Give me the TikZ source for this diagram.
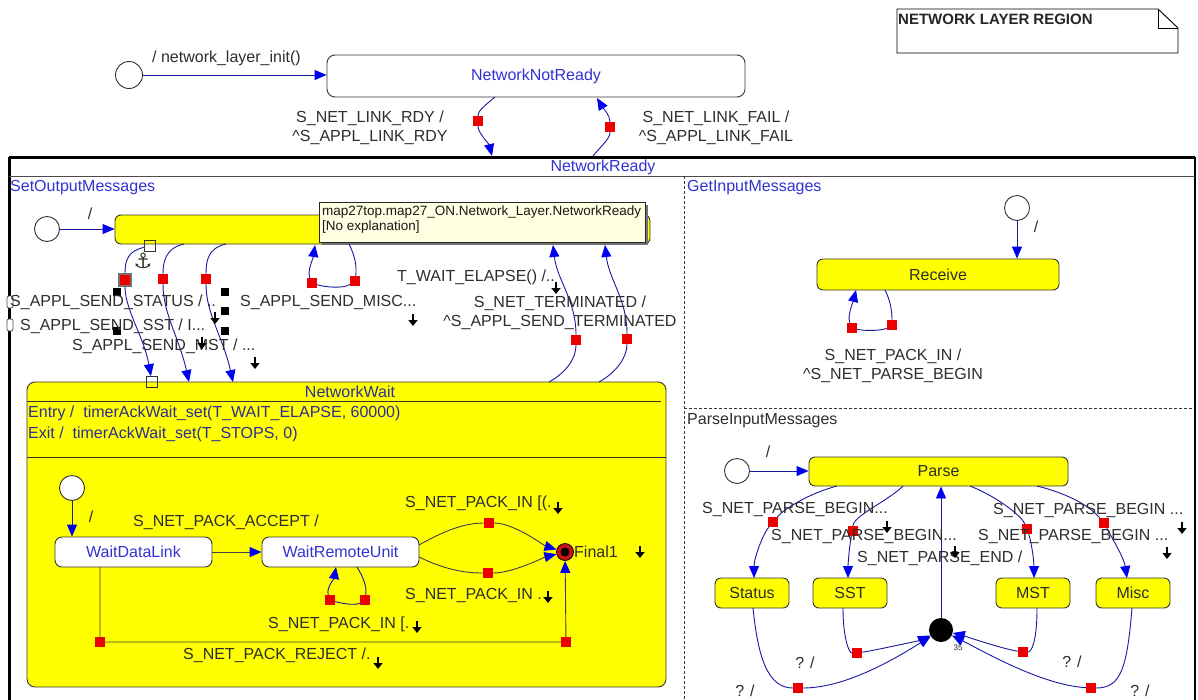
\documentclass[tikz,border=0pt]{standalone}
\usepackage{fontspec}
\setmainfont{Liberation Sans}
\newfontfamily\djv{DejaVu Sans}
\usetikzlibrary{arrows.meta,calc}
\definecolor{stblue}{RGB}{50,50,210}
\definecolor{navy}{RGB}{25,25,160}
\definecolor{tipblue}{RGB}{0,0,240}
\definecolor{styellow}{RGB}{255,255,0}
\definecolor{ttyellow}{RGB}{255,255,225}
\definecolor{sqred}{RGB}{235,0,0}
\definecolor{txtgray}{RGB}{45,45,45}
\definecolor{ewblue}{RGB}{45,45,150}
\definecolor{finred}{RGB}{200,20,20}
\begin{document}
\begin{tikzpicture}[x=1pt,y=-1pt,
  font=\fontsize{16}{19}\selectfont,
  lbl/.style={text=txtgray,inner sep=0},
  trans/.style={draw=navy,line width=0.9pt,-{Triangle[length=12pt,width=10pt,color=tipblue]}},
  transd/.style={draw=black!75,line width=0.9pt,-{Triangle[length=12pt,width=10pt,color=tipblue]}},
  stbox/.style={draw=black!80,line width=0.9pt,fill=styellow,rounded corners=6pt,inner sep=0,text=txtgray},
  wbox/.style={draw=black!80,line width=0.9pt,fill=white,rounded corners=7pt,inner sep=0,text=stblue},
  initc/.style={circle,draw=black!80,line width=0.9pt,fill=white,minimum size=25pt,inner sep=0},
  rsq/.style={fill=sqred,minimum size=10pt,inner sep=0},
  bsq/.style={fill=black,minimum size=8pt,inner sep=0},
  hsq/.style={draw=black!80,line width=0.8pt,minimum size=11pt,inner sep=0},
  darr/.style={draw=black,line width=2.2pt,-{Triangle[length=6pt,width=9pt]}},
  region/.style={text=stblue,anchor=west,inner sep=0},
  dline/.style={draw=black!80,line width=0.8pt,dash pattern=on 3pt off 2pt},
]
\useasboundingbox (0,0) rectangle (1198,699);
\clip (0,0) rectangle (1198,699);
\fill[white] (0,0) rectangle (1198,699);

% ---------- note ----------
\draw[line width=0.9pt,fill=white] (897,9) -- (1158,9) -- (1178,28) -- (1178,53) -- (897,53) -- cycle;
\draw[line width=0.9pt] (1158,9) -- (1158,28) -- (1178,28);
\node[anchor=west,inner sep=0,font=\bfseries\fontsize{15}{18}\selectfont,text=black!85] (note) at (898,19) {NETWORK LAYER REGION};

% ---------- NetworkReady container ----------
\draw[line width=3pt] (9,157) -- (1195,157);
\draw[line width=3pt] (9,157) -- (9,710);
\draw[line width=2pt] (1195,157) -- (1195,710);
\draw[line width=0.9pt,black!70] (9,176) -- (1195,176);
\node[inner sep=0,text=stblue] (nrt) at (603,167) {NetworkReady};
\draw[dline] (684,176) -- (684,710);
\draw[dline] (684,408) -- (1194,408);
\node[region] (rg1) at (10,188) {SetOutputMessages};
\node[region] (rg2) at (687,188) {GetInputMessages};
\node[region,text=txtgray] (rg3) at (687,421) {ParseInputMessages};
\draw[line width=0.7pt,black!70,fill=white,rounded corners=2pt] (7,296) rectangle (13,308);
\draw[line width=0.7pt,black!70,fill=white,rounded corners=2pt] (7,319) rectangle (13,331);

% ---------- top level ----------
\node[initc,minimum size=27pt] (i0) at (129,75) {};
\node[wbox,minimum width=418pt,minimum height=42pt,rounded corners=8pt] (nnr) at (536,76) {NetworkNotReady};
\draw[trans] (i0) -- (i0 -| nnr.west);
\node[lbl,anchor=west] (l0) at (152,58) {/ network\_layer\_init()};
\node[rsq] (r1) at (478,121) {};
\node[rsq] (r2) at (610,127) {};
\coordinate (c1s) at (495,97);
\coordinate (c1e) at (492,156);
\draw[trans] (c1s) .. controls +(-12,10) and +(0,-10) .. (r1) .. controls +(0,12) and +(-3,-12) .. (c1e);
\coordinate (c2s) at (593,156);
\coordinate (c2e) at (597,98);
\draw[trans] (c2s) .. controls +(8,-10) and +(0,12) .. (r2) .. controls +(0,-12) and +(6,10) .. (c2e);
\node[lbl,align=center] (l1) at (370,128) {S\_NET\_LINK\_RDY /\\\textasciicircum S\_APPL\_LINK\_RDY};
\node[lbl,align=center] (l2) at (716,128) {S\_NET\_LINK\_FAIL /\\\textasciicircum S\_APPL\_LINK\_FAIL};

% ---------- NetworkWait ----------
\node[stbox,minimum width=639pt,minimum height=305pt,rounded corners=8pt] (nw) at (346.5,534.5) {};
\node[inner sep=0,text=ewblue] (nwt) at (350,392) {NetworkWait};
\draw[line width=0.9pt,black!80] (27,401) -- (661,401);
\draw[line width=0.9pt,black!80] (27,457) -- (666,457);
\node[anchor=west,inner sep=0,text=ewblue] (en) at (28,413) {Entry /\ \ timerAckWait\_set(T\_WAIT\_ELAPSE, 60000)};
\node[anchor=west,inner sep=0,text=ewblue] (ex) at (28,434) {Exit /\ \ timerAckWait\_set(T\_STOPS, 0)};
\node[hsq] (h2) at (152,382) {};

% ---------- SetOutputMessages ----------
\node[initc] (i1) at (47,229) {};
\node[stbox,minimum width=535pt,minimum height=29pt] (sout) at (382.5,229.5) {};
\draw[trans] (i1) -- (i1 -| sout.west);
\node[lbl] (l3) at (90,214) {/};
\fill[black!55] (322,205) rectangle (648,245);
\node[draw=black!85,line width=0.8pt,fill=ttyellow,minimum width=326pt,minimum height=40pt,anchor=north west,inner sep=0] (tt) at (319,202) {};
\node[anchor=north west,align=left,inner sep=0,text=black!90,font=\fontsize{13.5}{15}\selectfont] (ttx) at (322,206) {map27top.map27\_ON.Network\_Layer.NetworkReady\\{[}No explanation{]}};
\node[hsq] (h1) at (150,246) {};
\node[inner sep=0,font=\djv\fontsize{21}{21}\selectfont,text=black!80] (anc) at (143,261) {⚓};

\node[rsq,draw=black!55,line width=1.2pt,minimum size=12pt] (rA) at (125,280) {};
\node[rsq] (rB) at (163,279) {};
\node[rsq] (rC) at (206,279) {};
\node[rsq] (rD) at (312,283) {};
\node[rsq] (rE) at (355,281) {};
\node[rsq] (rT) at (576,340) {};
\node[rsq] (rN) at (627,339) {};

\draw[trans] (h1) .. controls +(-22,5) and +(0,-20) .. (rA) .. controls +(0,30) and +(-8,-45) .. (h2);
\coordinate (sB) at (184,244);
\coordinate (eB) at (189,382);
\draw[trans] (sB) .. controls +(-18,4) and +(0,-18) .. (rB) .. controls +(0,35) and +(-10,-45) .. (eB);
\coordinate (sC) at (226,244);
\coordinate (eC) at (233,382);
\draw[trans] (sC) .. controls +(-18,4) and +(0,-18) .. (rC) .. controls +(0,35) and +(-10,-45) .. (eC);
\coordinate (sD) at (349,244);
\coordinate (eD) at (315,245);
\draw[trans] (sD) .. controls +(6,12) and +(2,-15) .. (rE) .. controls +(-12,8) and +(12,4) .. (rD) .. controls +(-5,-12) and +(-2,14) .. (eD);
\coordinate (sT) at (549,382);
\coordinate (eT) at (553,245);
\draw[trans] (sT) .. controls +(18,-10) and +(0,18) .. (rT) .. controls +(0,-40) and +(4,35) .. (eT);
\coordinate (sN) at (599,382);
\coordinate (eN) at (605,245);
\draw[trans] (sN) .. controls +(18,-10) and +(0,18) .. (rN) .. controls +(0,-40) and +(4,35) .. (eN);

\foreach \x/\y [count=\i] in {117/292,117/331,225/292,225/311,225/331}
  \node[bsq] (bq\i) at (\x,\y) {};

\node[lbl,anchor=west] (lA) at (10,302) {S\_APPL\_SEND\_STATUS / ..};
\node[lbl,anchor=west] (lB) at (20,326) {S\_APPL\_SEND\_SST / I...};
\node[lbl,anchor=west] (lC) at (72,346) {S\_APPL\_SEND\_MST / ...};
\node[lbl,anchor=west] (lD) at (240,302) {S\_APPL\_SEND\_MISC...};
\node[lbl,anchor=west] (lT) at (397,277) {T\_WAIT\_ELAPSE() /..};
\node[lbl,align=center] (lN) at (560,313) {S\_NET\_TERMINATED /\\\textasciicircum S\_APPL\_SEND\_TERMINATED};

% ---------- NetworkWait inner ----------
\node[initc] (i2) at (72,488) {};
\node[wbox,minimum width=157pt,minimum height=30pt] (wdl) at (133.5,552) {WaitDataLink};
\node[wbox,minimum width=157pt,minimum height=30pt] (wru) at (340.5,552) {WaitRemoteUnit};
\draw[trans] (i2) -- (i2 |- wdl.north);
\node[lbl] (l5) at (91,517) {/};
\draw[transd] (wdl) -- (wru);
\node[lbl,anchor=west] (l6) at (133,522) {S\_NET\_PACK\_ACCEPT /};

\node[circle,draw=black,line width=0.8pt,fill=finred,minimum size=17pt,inner sep=0] (f1) at (565,552) {};
\node[circle,fill=black,minimum size=9pt,inner sep=0] (f1c) at (565,552) {};
\node[lbl,anchor=west] (lf) at (574,552) {Final1};

\node[rsq] (rU) at (489,523) {};
\node[rsq] (rL) at (488,573) {};
\node[rsq] (rW1) at (330,600) {};
\node[rsq] (rW2) at (365,600) {};
\node[rsq] (rR1) at (100,642) {};
\node[rsq] (rR2) at (566,642) {};

\coordinate (u0) at (419,545);
\coordinate (d0) at (419,557);
\draw[transd] (u0) .. controls +(25,-14) and +(-25,0) .. (rU) .. controls +(25,0) and +(-20,-6) .. (f1);
\draw[transd] (d0) .. controls +(25,12) and +(-25,0) .. (rL) .. controls +(25,0) and +(-20,5) .. (f1);
\coordinate (sW) at (357,567);
\coordinate (eW) at (336,567);
\draw[trans] (sW) .. controls +(6,10) and +(2,-14) .. (rW2) .. controls +(-10,6) and +(10,3) .. (rW1) .. controls +(-4,-12) and +(-2,12) .. (eW);
\coordinate (rj0) at (100,567);
\draw[transd] (rj0) -- (rR1) -- (rR2) -- (f1);

\node[lbl,anchor=west] (l9) at (405,503) {S\_NET\_PACK\_IN [(.};
\node[lbl,anchor=west] (l10) at (405,595) {S\_NET\_PACK\_IN .};
\node[lbl,anchor=west] (l11) at (268,624) {S\_NET\_PACK\_IN [.};
\node[lbl,anchor=west] (l12) at (183,655) {S\_NET\_PACK\_REJECT /.};

% ---------- GetInputMessages ----------
\node[initc] (i3) at (1017,208) {};
\node[stbox,minimum width=242pt,minimum height=31pt] (rcv) at (938,274.5) {Receive};
\draw[trans] (i3) -- (i3 |- rcv.north);
\node[lbl] (l7) at (1036,227) {/};
\node[rsq] (rG1) at (852,328) {};
\node[rsq] (rG2) at (892,325) {};
\coordinate (sG) at (885,290);
\coordinate (eG) at (856,290);
\draw[trans] (sG) .. controls +(5,10) and +(0,-15) .. (rG2) .. controls +(-10,6) and +(12,3) .. (rG1) .. controls +(-5,-12) and +(-3,12) .. (eG);
\node[lbl,align=center] (l8) at (893,366) {S\_NET\_PACK\_IN /\\\textasciicircum S\_NET\_PARSE\_BEGIN};

% ---------- ParseInputMessages ----------
\node[initc] (i4) at (737,471) {};
\node[stbox,minimum width=259pt,minimum height=29pt] (parse) at (938.5,471.5) {Parse};
\draw[trans] (i4) -- (i4 -| parse.west);
\node[lbl] (l13) at (768,452) {/};
\node[stbox,minimum width=74pt,minimum height=30pt] (status) at (752,593) {Status};
\node[stbox,minimum width=74pt,minimum height=30pt] (sst) at (850,593) {SST};
\node[stbox,minimum width=74pt,minimum height=30pt] (mst) at (1033,593) {MST};
\node[stbox,minimum width=74pt,minimum height=30pt] (misc) at (1133,593) {Misc};
\node[circle,fill=black,minimum size=24pt,inner sep=0] (j) at (941,630) {};
\node[inner sep=0,font=\fontsize{8}{8}\selectfont,text=txtgray] (j35) at (958,648) {35};
\draw[trans] (j) -- (j |- parse.south);

\node[rsq] (rP1) at (773,522) {};
\node[rsq] (rP2) at (853,531) {};
\node[rsq] (rP3) at (1027,529) {};
\node[rsq] (rP4) at (1104,523) {};
\node[rsq] (rS) at (857,653) {};
\node[rsq] (rSt) at (798,688) {};
\node[rsq] (rM) at (1023,652) {};
\node[rsq] (rMi) at (1091,688) {};

\coordinate (p1) at (837,486);
\coordinate (p2) at (903,486);
\coordinate (p3) at (970,486);
\coordinate (p4) at (1037,486);
\coordinate (q1) at (754,578);
\coordinate (q2) at (848,578);
\coordinate (q3) at (1034,578);
\coordinate (q4) at (1127,578);
\draw[trans] (p1) .. controls +(-30,8) and +(10,-12) .. (rP1) .. controls +(-10,12) and +(0,-20) .. (q1);
\draw[trans] (p2) .. controls +(-15,15) and +(0,-15) .. (rP2) .. controls +(-3,10) and +(0,-15) .. (q2);
\draw[trans] (p3) .. controls +(30,12) and +(-5,-12) .. (rP3) .. controls +(5,15) and +(0,-15) .. (q3);
\draw[trans] (p4) .. controls +(40,10) and +(-10,-12) .. (rP4) .. controls +(8,15) and +(-3,-20) .. (q4);

\coordinate (b1) at (753,608);
\coordinate (b2) at (843,608);
\coordinate (b3) at (1037,608);
\coordinate (b4) at (1132,608);
\draw[trans] (b2) .. controls +(0,30) and +(-8,0) .. (rS) .. controls +(20,-3) and +(-20,10) .. (j);
\draw[trans] (b1) .. controls +(5,50) and +(-30,0) .. (rSt) .. controls +(50,0) and +(-40,25) .. (j);
\draw[trans] (b3) .. controls +(0,35) and +(8,0) .. (rM) .. controls +(-20,-3) and +(20,5) .. (j);
\draw[trans] (b4) .. controls +(-5,60) and +(30,0) .. (rMi) .. controls +(-50,-3) and +(40,20) .. (j);

\node[lbl,anchor=west] (l14) at (702,509) {S\_NET\_PARSE\_BEGIN...};
\node[lbl,anchor=west] (l15) at (771,536) {S\_NET\_PARSE\_BEGIN...};
\node[lbl,anchor=west] (l16) at (857,558) {S\_NET\_PARSE\_END /};
\node[lbl,anchor=west] (l17) at (993,510) {S\_NET\_PARSE\_BEGIN ...};
\node[lbl,anchor=west] (l18) at (978,536) {S\_NET\_PARSE\_BEGIN ...};
\node[lbl] (q5) at (805,663) {? /};
\node[lbl] (q6) at (1072,662) {? /};
\node[lbl] (q7) at (745,691) {? /};
\node[lbl] (q8) at (1140,691) {? /};

% ---------- small black down arrows ----------
\foreach \x/\y in {215/318,202/343,255/363,413/320,556/288,558/508,548/597,417/627,378/663,640/552,887/527,955/552,1182/528,1167/553}
  \draw[darr] (\x,\y-6) -- (\x,\y+6);
\end{tikzpicture}
\end{document}
